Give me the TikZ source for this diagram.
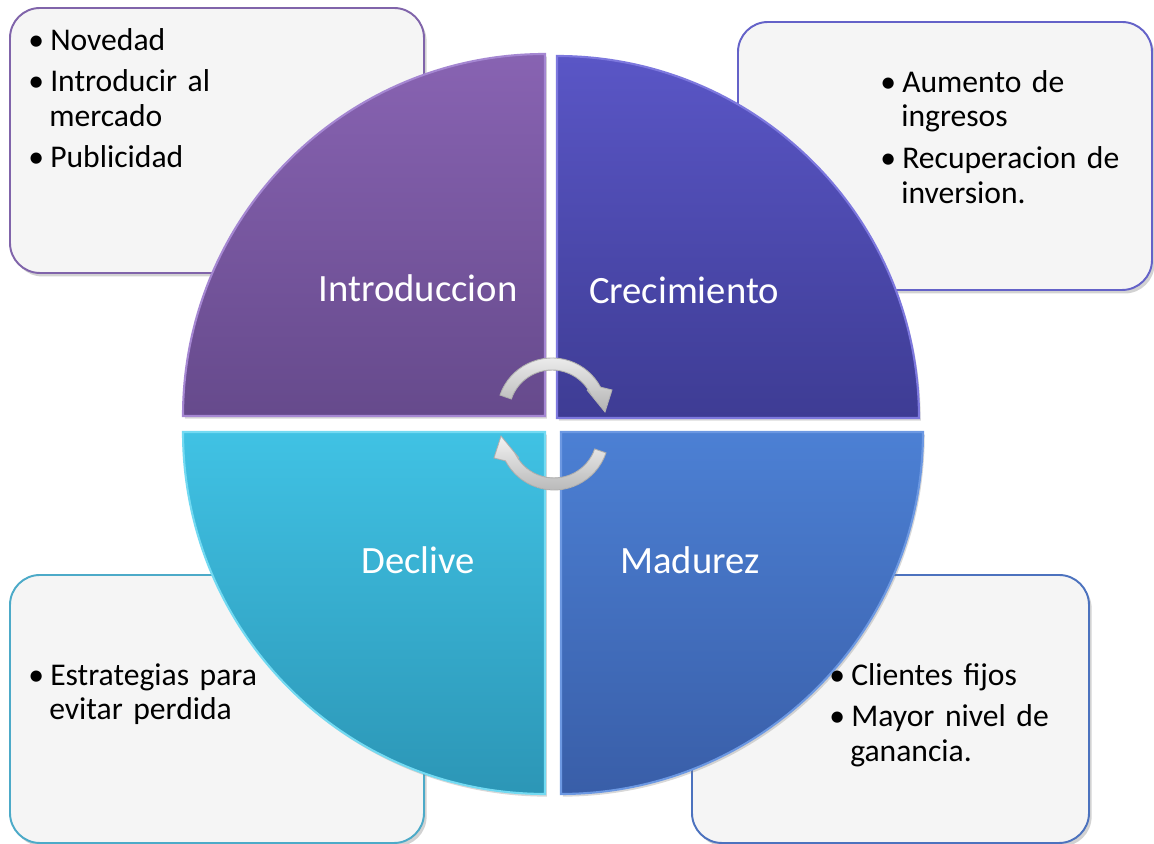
\documentclass[tikz,border=0pt]{standalone}
\usepackage{fontspec}
\setmainfont{Carlito}[WordSpace=0.9]
\usetikzlibrary{shadows}
\definecolor{introtop}{RGB}{136,99,178}
\definecolor{introbot}{RGB}{102,74,140}
\definecolor{introedge}{RGB}{165,135,210}
\definecolor{growtop}{RGB}{90,86,198}
\definecolor{growbot}{RGB}{62,60,148}
\definecolor{growedge}{RGB}{125,120,222}
\definecolor{maturetop}{RGB}{76,128,212}
\definecolor{maturebot}{RGB}{57,94,168}
\definecolor{matureedge}{RGB}{108,152,226}
\definecolor{declinetop}{RGB}{64,194,228}
\definecolor{declinebot}{RGB}{44,150,182}
\definecolor{declineedge}{RGB}{115,218,242}
\definecolor{boxgray}{RGB}{245,245,245}
\definecolor{introline}{RGB}{128,100,170}
\definecolor{growline}{RGB}{100,98,200}
\definecolor{matureline}{RGB}{76,114,190}
\definecolor{declineline}{RGB}{76,170,200}
\newcommand*{\stagenotes}[3]{%
  \node [notes, anchor=north west] (#1) at (#2) {\raggedright
  \list{\textbullet}{\topsep=0pt\itemsep=3.8pt\parsep=0pt
    \parskip=0pt\labelwidth=8.4pt\leftmargin=11.9pt
    \itemindent=0pt\labelsep=3.5pt}%
    #3
  \endlist
  };
}

\begin{document}
\begin{tikzpicture}[x=0.02cm, y=0.02cm,
    notes/.style   = {inner sep=0pt, text width=8cm, align=left,
                      font=\fontsize{18}{19.8}\selectfont},
    stage/.style   = {text=white, inner sep=0pt, font=\fontsize{22}{26}\selectfont},
    notebox/.style = {fill=boxgray, rounded corners=0.6cm, line width=1.1pt,
                      drop shadow={shadow xshift=1.5pt, shadow yshift=-2pt, opacity=0.35}},
    quarter/.style = {line width=1.2pt,
                      drop shadow={shadow xshift=1pt, shadow yshift=-1.5pt, opacity=0.3}},
    turn/.style    = {draw=gray!60, line width=0.5pt, top color=gray!10, bottom color=gray!60}]
  \fill[white] (0,0) rectangle (1154,844);
  \useasboundingbox (0,0) rectangle (1154,844);

  % boxes behind the circle
  \draw[notebox, draw=introline]   (10,571)  rectangle (424,836);
  \draw[notebox, draw=growline]    (738,554) rectangle (1152,822);
  \draw[notebox, draw=declineline] (10,1)    rectangle (424,269);
  \draw[notebox, draw=matureline]  (692,1)   rectangle (1089,269);

  % the four quarters
  \draw[quarter, draw=introedge, top color=introtop, bottom color=introbot]
    (545,428) -- (183,428) arc[start angle=180, end angle=90, radius=362] -- cycle;
  \draw[quarter, draw=growedge, top color=growtop, bottom color=growbot]
    (557,426) -- (557,788) arc[start angle=90, end angle=0, radius=362] -- cycle;
  \draw[quarter, draw=matureedge, top color=maturetop, bottom color=maturebot]
    (561,412) -- (923,412) arc[start angle=0, end angle=-90, radius=362] -- cycle;
  \draw[quarter, draw=declineedge, top color=declinetop, bottom color=declinebot]
    (545,412) -- (545,50) arc[start angle=-90, end angle=-180, radius=362] -- cycle;

  \node[stage] (intro)   at (418,556) {Introduccion};
  \node[stage] (grow)    at (684,554) {Crecimiento};
  \node[stage] (mature)  at (690,284) {Madurez};
  \node[stage] (decline) at (418,284) {Declive};

  % turning arrows in the middle
  \begin{scope}[shift={(552,431)}]
    \filldraw[turn] (161:55) arc[start angle=161, end angle=28, radius=55]
      -- (60,23) -- (53,1) -- (35,23) -- (28:43)
      arc[start angle=28, end angle=161, radius=43] -- cycle;
  \end{scope}
  \begin{scope}[rotate around={180:(553,420)}, shift={(552,431)}]
    \filldraw[turn] (161:55) arc[start angle=161, end angle=28, radius=55]
      -- (60,23) -- (53,1) -- (35,23) -- (28:43)
      arc[start angle=28, end angle=161, radius=43] -- cycle;
  \end{scope}

  % texts of the boxes
  \stagenotes{introNotes}{28,829}{%
    \item Novedad
    \item Introducir al\newline mercado
    \item Publicidad
  }
  \stagenotes{growNotes}{880,787}{%
    \item Aumento de\newline ingresos
    \item Recuperacion de\newline inversion.
  }
  \stagenotes{declineNotes}{28,194}{%
    \item Estrategias para\newline evitar perdida
  }
  \stagenotes{matureNotes}{829,194}{%
    \item Clientes fijos
    \item Mayor nivel de\newline ganancia.
  }
\end{tikzpicture}
\end{document}
